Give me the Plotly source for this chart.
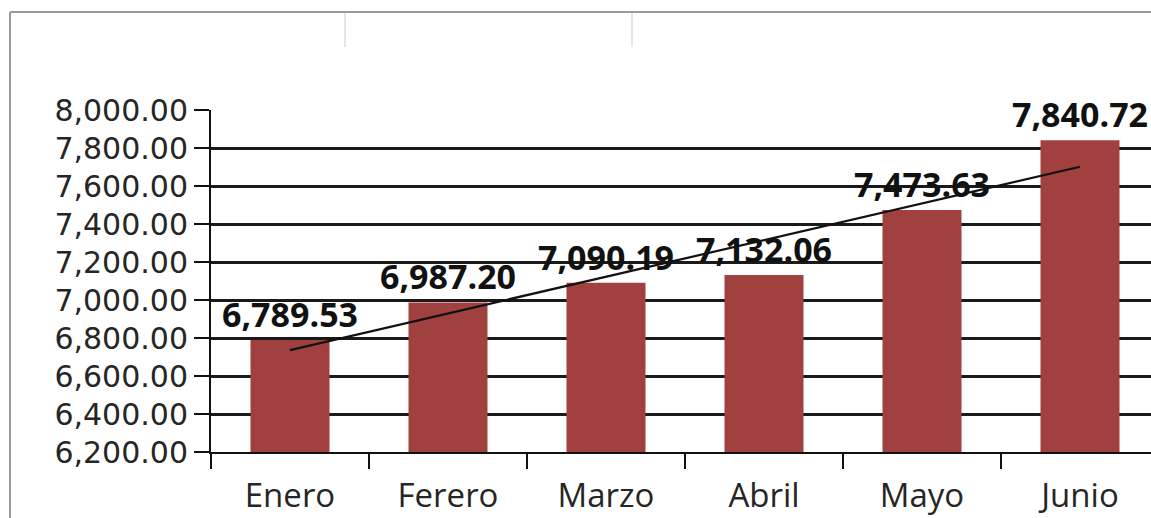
import numpy as np
import plotly.graph_objects as go

months = ["Enero", "Ferero", "Marzo", "Abril", "Mayo", "Junio"]
values = [6789.53, 6987.20, 7090.19, 7132.06, 7473.63, 7840.72]
y_ticks = [6200, 6400, 6600, 6800, 7000, 7200, 7400, 7600, 7800, 8000]

# linear trendline (as in the spreadsheet)
xi = np.arange(len(values))
slope, intercept = np.polyfit(xi, values, 1)
trend = [intercept, intercept + slope * (len(values) - 1)]

W, H = 1151, 518
L, R, T, B = 211, 0, 110, 66
pw, ph = W - L - R, H - T - B
cat_px = 158.0

def px(x):  # page pixel -> paper x
    return (x - L) / pw

def py(y):  # page pixel -> paper y
    return (H - B - y) / ph

fig = go.Figure()
fig.add_trace(go.Bar(
    x=months, y=values, width=0.5,
    marker=dict(color="#A0413F", line=dict(width=0)),
    texttemplate="%{y:,.2f}", textposition="outside",
    textfont=dict(family="Open Sans", size=34, color="#111111", weight="bold"),
    constraintext="none", cliponaxis=False, showlegend=False,
))
fig.add_trace(go.Scatter(
    x=[months[0], months[-1]], y=trend, mode="lines",
    line=dict(color="#111111", width=2.2), showlegend=False,
))

fig.update_layout(
    width=W, height=H,
    margin=dict(l=L, r=R, t=T, b=B, pad=0),
    paper_bgcolor="white", plot_bgcolor="white",
    font=dict(family="Open Sans", color="#262626"),
    bargap=0.5,
)

fig.update_xaxes(
    type="category", categoryorder="array", categoryarray=months,
    range=[-0.5, -0.5 + pw / cat_px],
    showgrid=False, zeroline=False,
    showline=True, linecolor="#111111", linewidth=2,
    ticks="outside", ticklen=15, tickwidth=2, tickcolor="#111111",
    tickson="boundaries",
    tickfont=dict(family="Open Sans", size=33, color="#262626"),
    ticklabelstandoff=13,
)
fig.update_yaxes(
    range=[6200, 8000], tickmode="array", tickvals=y_ticks,
    ticktext=[f"{v:,.2f}" for v in y_ticks],
    showgrid=True, gridcolor="#1a1a1a", gridwidth=2.5,
    zeroline=False,
    showline=True, linecolor="#111111", linewidth=2,
    ticks="outside", ticklen=15, tickwidth=2, tickcolor="#111111",
    tickfont=dict(family="DejaVu Sans", size=30, color="#262626"),
)

# outer chart frame (cropped screenshot edges)
fig.add_shape(type="line", xref="paper", yref="paper",
              x0=px(10), x1=px(10), y0=py(12), y1=py(530),
              line=dict(color="#9a9a9a", width=2))
fig.add_shape(type="line", xref="paper", yref="paper",
              x0=px(10), x1=px(1160), y0=py(12), y1=py(12),
              line=dict(color="#9a9a9a", width=2))
for xv in (345, 632):
    fig.add_shape(type="line", xref="paper", yref="paper",
                  x0=px(xv), x1=px(xv), y0=py(13), y1=py(47),
                  line=dict(color="#dcdcdc", width=1.5))

fig.write_html(
    "out.html",
    config={"displayModeBar": False},
    post_script="document.body.style.margin='0';document.body.style.overflow='hidden';"
                "document.documentElement.style.overflow='hidden';",
)
